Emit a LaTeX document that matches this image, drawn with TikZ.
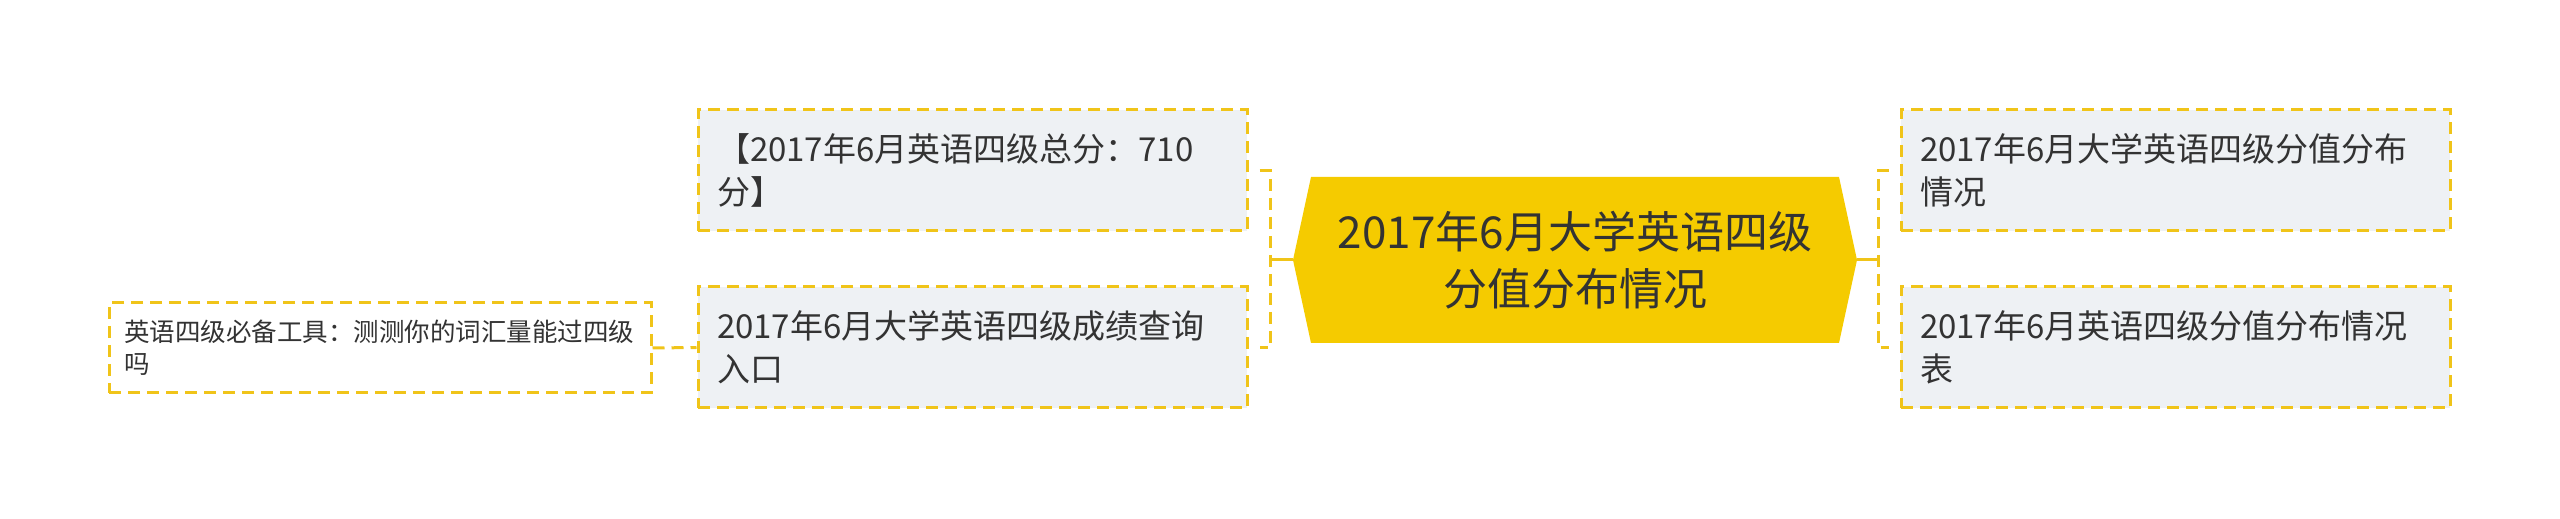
\documentclass[tikz,border=0pt]{standalone}
\usepackage{fontspec}
\setmainfont{Noto Sans CJK SC}
\usepackage{tikz}
\usetikzlibrary{calc}
\definecolor{hexyellow}{HTML}{F5CB00}
\definecolor{dashyellow}{HTML}{F0C419}
\definecolor{boxgrey}{HTML}{EEF1F4}
\definecolor{txtgrey}{HTML}{333333}

\begin{document}
\begin{tikzpicture}[x=0.5pt,y=0.5pt,
  topic/.style={rectangle,minimum width=282pt,minimum height=83pt,inner sep=0pt,align=center,text=txtgrey,font=\fontsize{22}{28.5}\selectfont},
  sub/.style={rectangle,draw=dashyellow,fill=boxgrey,line width=1.5pt,dash pattern=on 6pt off 3.5pt,text width=255.5pt,inner xsep=9.5pt,minimum height=60.5pt,align=left,text=txtgrey,font=\fontsize{16.5}{21.5}\selectfont},
  leaf/.style={sub,fill=white,text width=256pt,inner xsep=7.5pt,minimum height=45pt,font=\fontsize{12.75}{16}\selectfont},
  bar/.style={draw=dashyellow,line width=1.5pt,dash pattern=on 6pt off 3.5pt},
  stem/.style={draw=dashyellow,line width=1.5pt}]
\useasboundingbox (0,0) rectangle (2560,519);
% hexagon behind the main topic
\fill[hexyellow] (1293,259) -- (1311,342) -- (1839,342) -- (1857,259) -- (1839,176) -- (1311,176) -- cycle;
\node[topic] (root) at (1575,259) {2017年6月大学英语四级\\分值分布情况};
\foreach \n/\x/\y/\t in %
{lt/972.5/348.5/{【2017年6月英语四级总分：710\\分】},
 lb/972.5/171.5/{2017年6月大学英语四级成绩查询\\入口},
 rt/2175.5/348.5/{2017年6月大学英语四级分值分布\\情况},
 rb/2175.5/171.5/{2017年6月英语四级分值分布情况\\表}} {
   \node[sub] (\n) at (\x,\y) {\t};
}
\node[leaf] (far) at (380,171) {英语四级必备工具：测测你的词汇量能过四级\\吗};
\coordinate (lj) at (1270,259);
\coordinate (rj) at (1878,259);
\draw[stem] (root.west) -- (lj);
\draw[stem] (root.east) -- (rj);
\draw[bar] ($(lt.east)+(11,0)$) -| (lj) |- ($(lb.east)+(11,0)$);
\draw[bar] ($(rt.west)+(-11,0)$) -| (rj) |- ($(rb.west)+(-11,0)$);
\draw[bar] (far.east) -- (lb.west);
\end{tikzpicture}
\end{document}
